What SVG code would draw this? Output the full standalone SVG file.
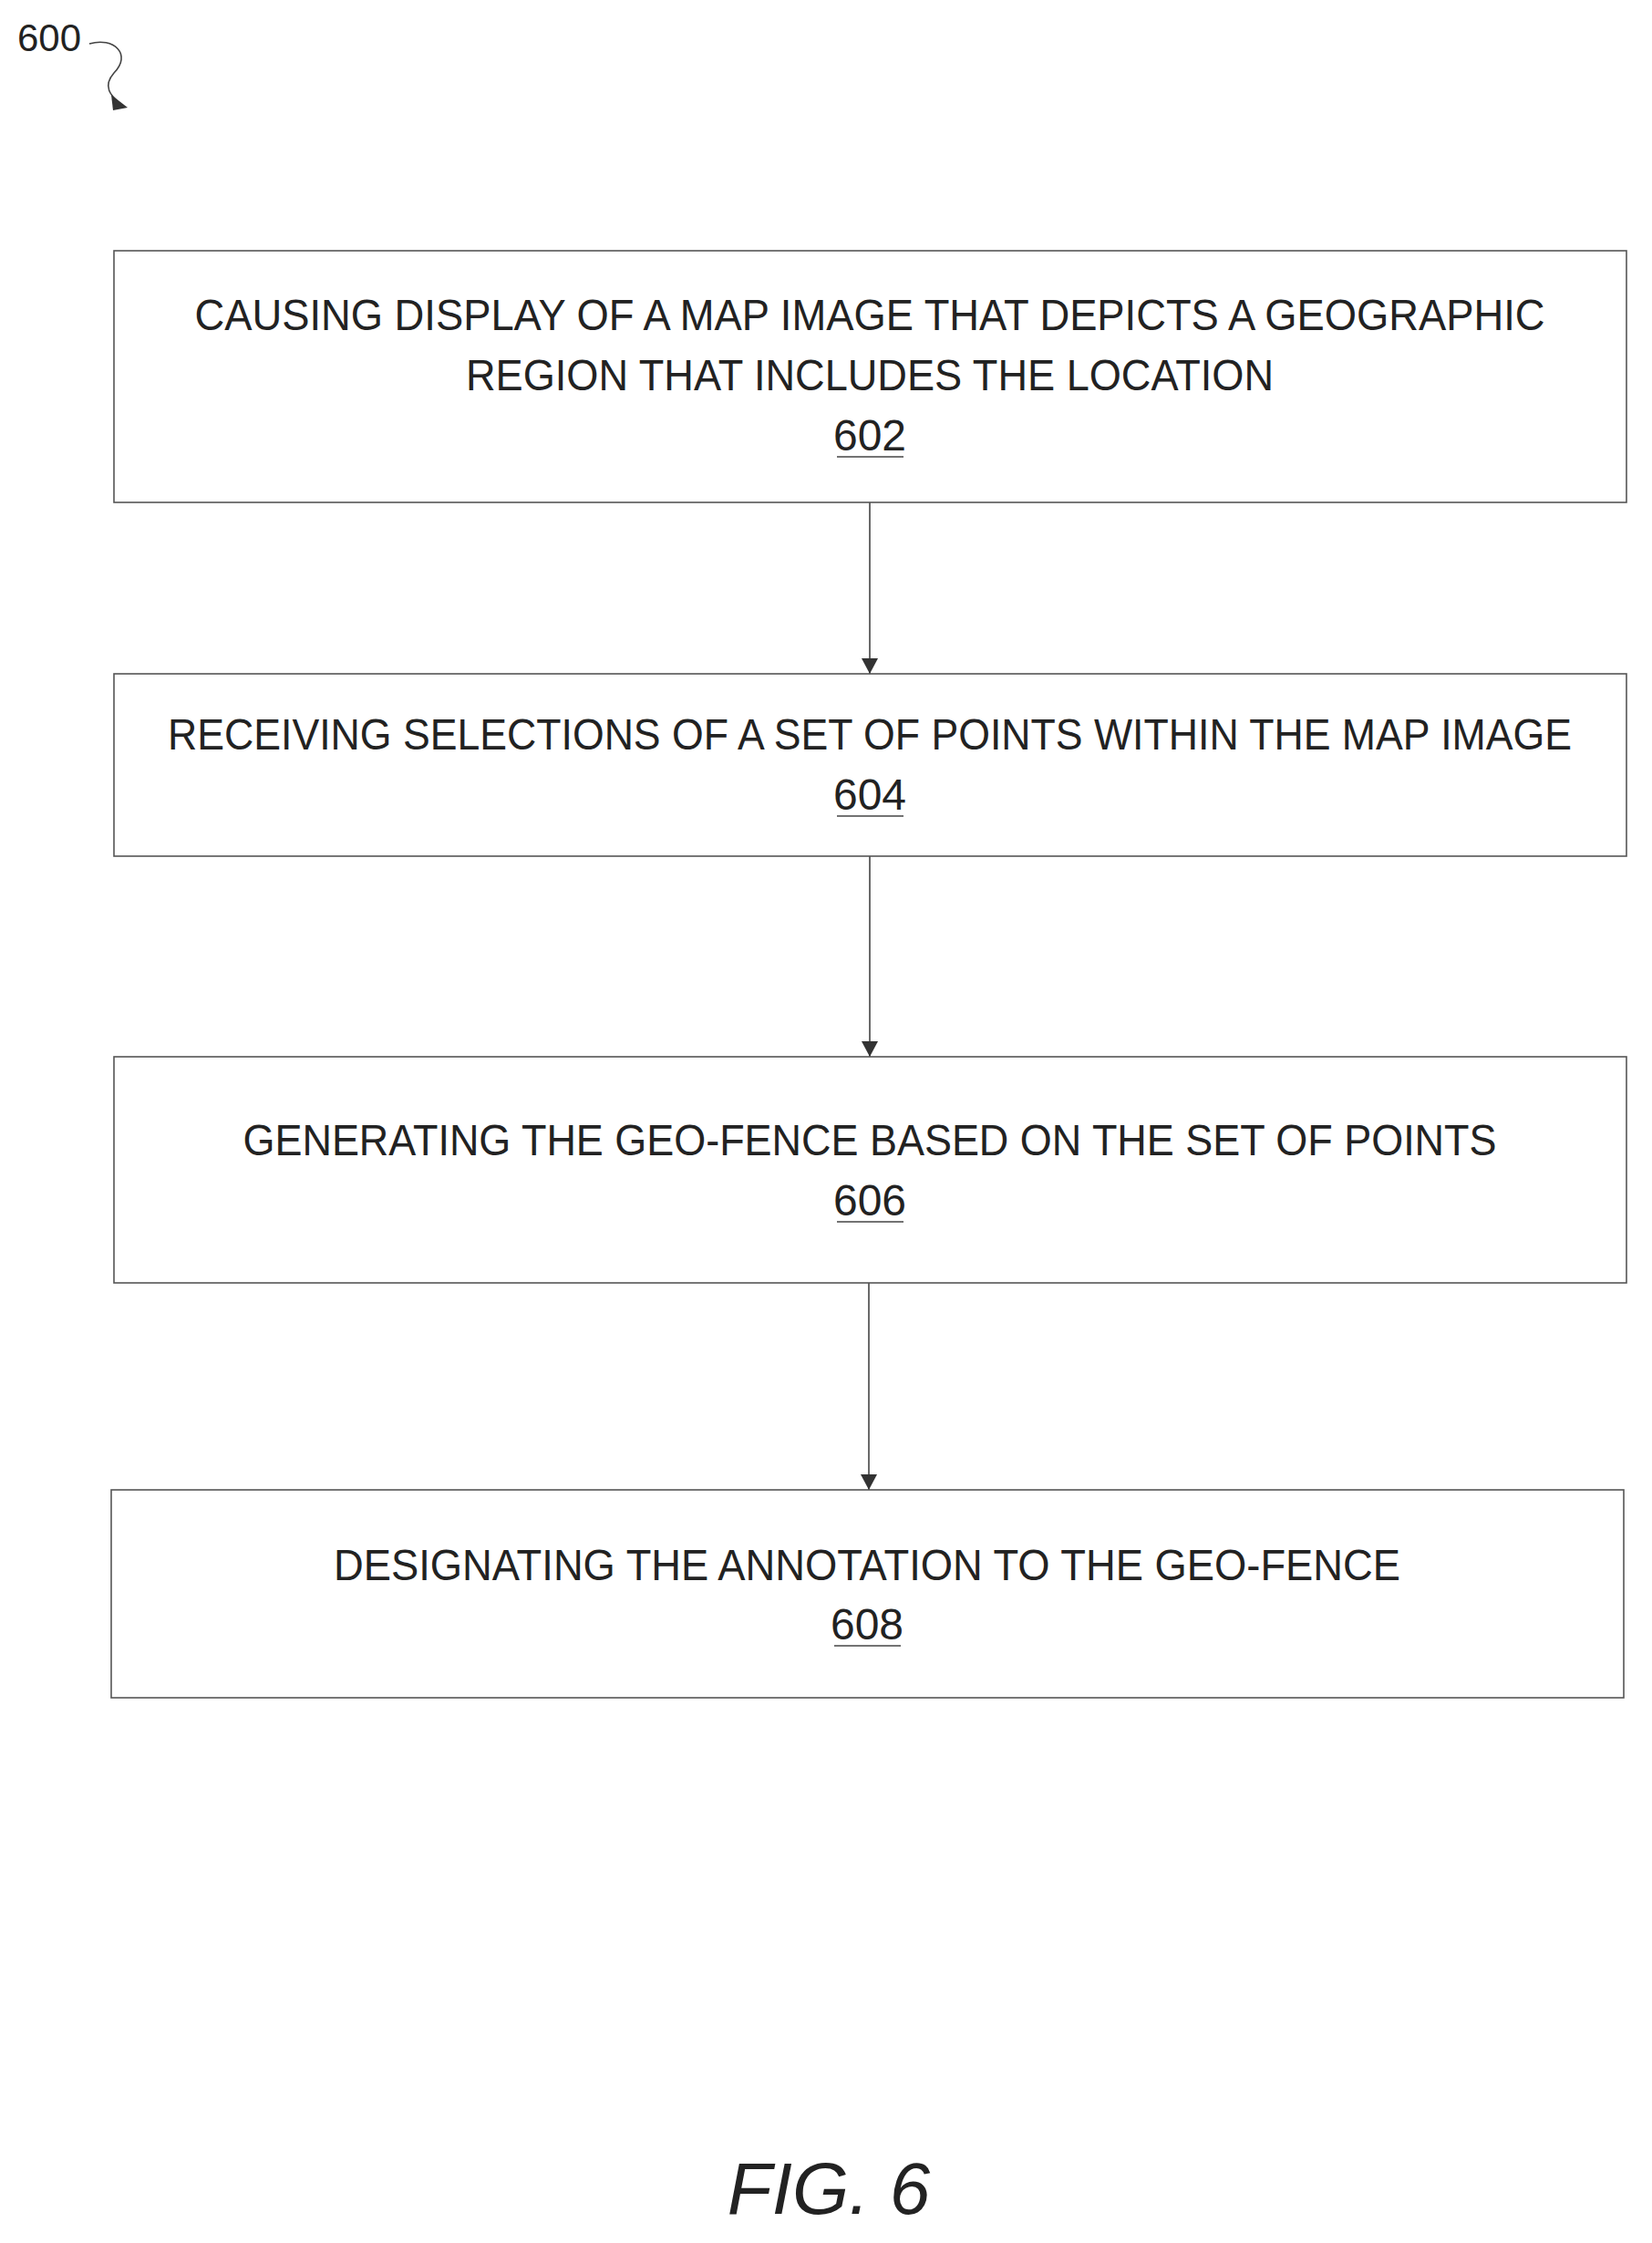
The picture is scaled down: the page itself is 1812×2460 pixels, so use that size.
<svg xmlns="http://www.w3.org/2000/svg" width="1812" height="2460" viewBox="0 0 1812 2460">
<style>
.b{fill:#fff;stroke:#555;stroke-width:1.6}
.t{font-family:"Liberation Sans Narrow","Liberation Sans",sans-serif;font-size:48px;fill:#222;text-anchor:middle}
.c{stroke:#444;stroke-width:1.6;fill:none}
</style>
<defs><marker id="a" markerWidth="20" markerHeight="20" refX="10" refY="18" orient="auto-start-reverse" markerUnits="userSpaceOnUse" viewBox="0 0 20 20"><path d="M2,4 L18,4 L10,19 Z" fill="#333"/></marker></defs>
<g id="ref600"><text x="19" y="56" style="font-family:'Liberation Sans Narrow','Liberation Sans',sans-serif;font-size:42px;fill:#222">600</text>
<path class="c" d="M98,48 C125,40 145,60 125,80 C112,95 122,105 130,112"/><path d="M122,104 L140,118 L124,121 Z" fill="#333"/></g>
<g id="connectors">
<line class="c" x1="954" y1="551" x2="954" y2="739"/><path d="M945,722 L963,722 L954,739 Z" fill="#333"/>
<line class="c" x1="954" y1="939" x2="954" y2="1159"/><path d="M945,1142 L963,1142 L954,1159 Z" fill="#333"/>
<line class="c" x1="953" y1="1407" x2="953" y2="1634"/><path d="M944,1617 L962,1617 L953,1634 Z" fill="#333"/>
</g>
<g id="n602"><rect class="b" x="125" y="275" width="1659" height="276"/>
<text class="t" x="954" y="362" textLength="1481" lengthAdjust="spacingAndGlyphs">CAUSING DISPLAY OF A MAP IMAGE THAT DEPICTS A GEOGRAPHIC</text>
<text class="t" x="954" y="428" textLength="886" lengthAdjust="spacingAndGlyphs">REGION THAT INCLUDES THE LOCATION</text>
<text class="t" x="954" y="494">602</text><line class="c" x1="918" y1="501" x2="991" y2="501"/></g>
<g id="n604"><rect class="b" x="125" y="739" width="1659" height="200"/>
<text class="t" x="954" y="822" textLength="1540" lengthAdjust="spacingAndGlyphs">RECEIVING SELECTIONS OF A SET OF POINTS WITHIN THE MAP IMAGE</text>
<text class="t" x="954" y="888">604</text><line class="c" x1="918" y1="895" x2="991" y2="895"/></g>
<g id="n606"><rect class="b" x="125" y="1159" width="1659" height="248"/>
<text class="t" x="954" y="1267" textLength="1375" lengthAdjust="spacingAndGlyphs">GENERATING THE GEO-FENCE BASED ON THE SET OF POINTS</text>
<text class="t" x="954" y="1333">606</text><line class="c" x1="918" y1="1340" x2="991" y2="1340"/></g>
<g id="n608"><rect class="b" x="122" y="1634" width="1659" height="228"/>
<text class="t" x="951" y="1733" textLength="1170" lengthAdjust="spacingAndGlyphs">DESIGNATING THE ANNOTATION TO THE GEO-FENCE</text>
<text class="t" x="951" y="1798">608</text><line class="c" x1="915" y1="1805" x2="988" y2="1805"/></g>
<text x="909" y="2428" style="font-family:'Liberation Sans Narrow','Liberation Sans',sans-serif;font-size:80px;font-style:italic;fill:#222;text-anchor:middle">FIG. 6</text>
</svg>
